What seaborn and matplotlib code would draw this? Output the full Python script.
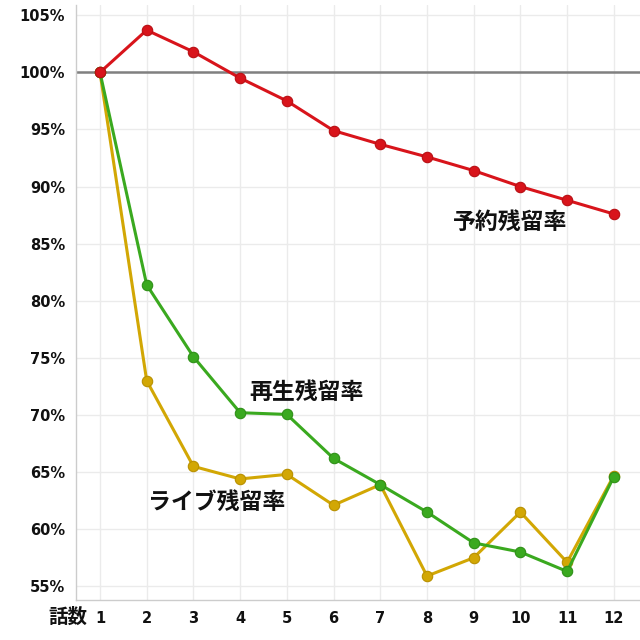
import matplotlib
matplotlib.use("Agg")
import matplotlib.pyplot as plt
import seaborn as sns
import pandas as pd
from matplotlib.ticker import FuncFormatter

episodes = list(range(1, 13))
reserve = [100, 103.7, 101.8, 99.5, 97.5, 94.9, 93.7, 92.6, 91.4, 90.0, 88.8, 87.6]
playback = [100, 81.4, 75.1, 70.2, 70.05, 66.2, 63.9, 61.5, 58.8, 58.0, 56.3, 64.6]
live = [100, 73.0, 65.5, 64.4, 64.8, 62.1, 63.9, 55.9, 57.5, 61.5, 57.1, 64.7]
series_names = ["予約残留率", "再生残留率", "ライブ残留率"]
yticks = [55, 60, 65, 70, 75, 80, 85, 90, 95, 100, 105]

df = pd.concat([
    pd.DataFrame({"話数": episodes, "値": vals, "系列": name})
    for name, vals in zip(series_names, [reserve, playback, live])
])

sns.set_theme(style="white")
plt.rcParams['font.family'] = ['DejaVu Sans', 'Noto Sans CJK JP']

colors = {"予約残留率": "#d8141b", "再生残留率": "#3aa91f", "ライブ残留率": "#d2a704"}
edge = {"予約残留率": "#b80f14", "再生残留率": "#2f9018", "ライブ残留率": "#b89000"}

fig = plt.figure(figsize=(6.4, 6.4), dpi=100)
ax = fig.add_axes([0.119, 0.0625, 0.881, 0.9297])

ax.axhline(100, color="#808080", lw=1.8, zorder=1)

for name in ["ライブ残留率", "再生残留率", "予約残留率"]:
    sub = df[df["系列"] == name]
    sns.lineplot(data=sub, x="話数", y="値", ax=ax, color=colors[name],
                 marker="o", markersize=7.5, markeredgecolor=edge[name],
                 markeredgewidth=0.8, linewidth=2.2, legend=False, zorder=3)

ax.set_xlim(0.49, 12.56)
ax.set_ylim(53.8, 105.9)
ax.set_xticks(episodes)
ax.set_yticks(yticks)
ax.yaxis.set_major_formatter(FuncFormatter(lambda v, p: f"{int(v)}%"))
ax.grid(True, color="#ebebeb", lw=1)
ax.set_axisbelow(True)
for s in ["top", "right"]:
    ax.spines[s].set_visible(False)
for s in ["left", "bottom"]:
    ax.spines[s].set_color("#cccccc")
    ax.spines[s].set_linewidth(1)
ax.tick_params(axis="both", length=0, labelsize=10.5, pad=8, colors="#111111")
for lab in ax.get_xticklabels() + ax.get_yticklabels():
    lab.set_fontweight("bold")
ax.set_xlabel("")
ax.set_ylabel("")

jp = ['Noto Sans CJK JP', 'DejaVu Sans']

def label(x, y, s, size=16.5):
    ax.text(x, y, s, fontsize=size, fontweight="bold", family=jp,
            ha="center", va="center", color="#111111")

label(9.78, 86.9, "予約残留率")
label(5.41, 72.0, "再生残留率")
label(3.5, 62.35, "ライブ残留率")
fig.text(68 / 640, 1 - 617 / 640, "話数", fontsize=14, fontweight="bold",
         family=jp, ha="center", va="center", color="#111111")

fig.savefig("out.png", dpi=100, facecolor="white")
